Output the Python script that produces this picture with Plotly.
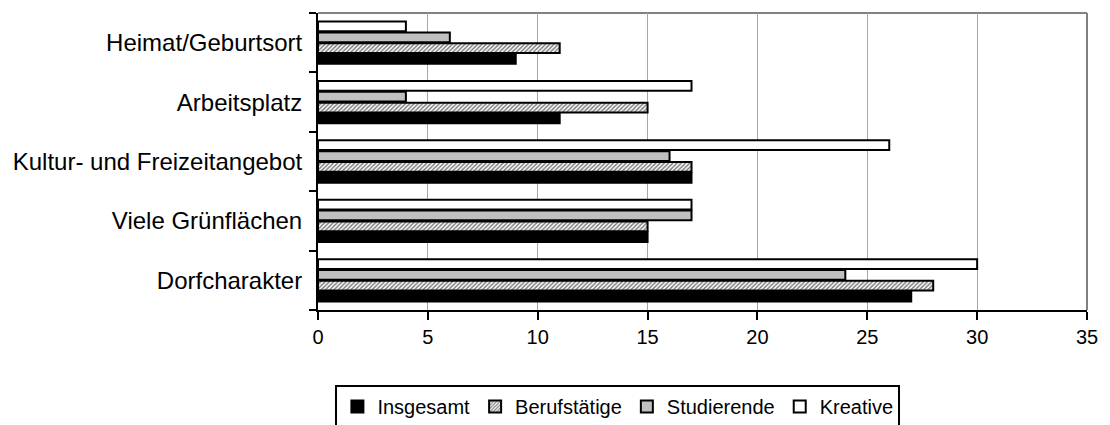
import plotly.graph_objects as go

categories = ["Dorfcharakter", "Viele Grünflächen", "Kultur- und Freizeitangebot",
              "Arbeitsplatz", "Heimat/Geburtsort"]
insgesamt = [27, 15, 17, 11, 9]
berufstaetige = [28, 15, 17, 15, 11]
studierende = [24, 17, 16, 4, 6]
kreative = [30, 17, 26, 17, 4]
x_ticks = [0, 5, 10, 15, 20, 25, 30, 35]

FONT = "Arial, Liberation Sans, sans-serif"
LINE = dict(color="black", width=2)

fig = go.Figure()
fig.add_trace(go.Bar(y=categories, x=insgesamt, name="Insgesamt", orientation="h",
                     marker=dict(color="black", line=LINE)))
fig.add_trace(go.Bar(y=categories, x=berufstaetige, name="Berufstätige", orientation="h",
                     marker=dict(color="white", line=LINE,
                                 pattern=dict(shape="/", fgcolor="black", bgcolor="white",
                                              size=3, solidity=0.5))))
fig.add_trace(go.Bar(y=categories, x=studierende, name="Studierende", orientation="h",
                     marker=dict(color="#C0C0C0", line=LINE)))
fig.add_trace(go.Bar(y=categories, x=kreative, name="Kreative", orientation="h",
                     marker=dict(color="white", line=LINE)))

fig.update_layout(
    width=1094, height=430,
    margin=dict(l=310, r=15, t=5, b=128),
    paper_bgcolor="white", plot_bgcolor="white",
    barmode="group", bargap=0.27, bargroupgap=0.1,
    font=dict(family=FONT, size=21, color="black"),
    showlegend=True,
    legend=dict(orientation="h", x=0.39, xanchor="center", y=-0.2525, yanchor="top",
                bordercolor="black", borderwidth=2, bgcolor="white",
                font=dict(size=20), itemwidth=30, traceorder="normal"),
    shapes=[
        dict(type="line", xref="paper", yref="paper", x0=0, x1=1, y0=1, y1=1,
             line=dict(color="#808080", width=2), layer="below"),
        dict(type="line", xref="paper", yref="paper", x0=1, x1=1, y0=0, y1=1,
             line=dict(color="#808080", width=2), layer="below"),
    ],
)
fig.update_xaxes(range=[0, 35], tickvals=x_ticks, ticktext=[str(v) for v in x_ticks],
                 showgrid=True, gridcolor="#A6A6A6", gridwidth=1,
                 showline=True, linecolor="black", linewidth=2,
                 ticks="outside", ticklen=8, tickwidth=2, tickcolor="black",
                 tickfont=dict(size=20), zeroline=False, fixedrange=True,
                 automargin=False, ticklabeloverflow="allow")
fig.update_yaxes(showline=True, linecolor="black", linewidth=2,
                 ticks="outside", tickson="boundaries", ticklen=7, tickwidth=2,
                 tickcolor="black", showgrid=False, ticklabelstandoff=9,
                 tickfont=dict(size=24), fixedrange=True, automargin=False)

fig.write_html("out.html")
